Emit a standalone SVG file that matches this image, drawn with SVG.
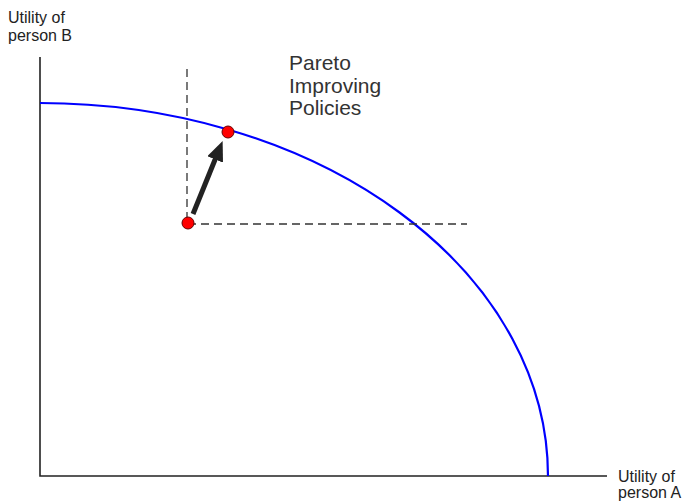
<svg xmlns="http://www.w3.org/2000/svg" width="691" height="503" viewBox="0 0 691 503">
<style>
text{font-family:"Liberation Sans",Arial,sans-serif;fill:#222}
.lab{font-size:16px}
.big{font-size:21px;fill:#333}
.axis{stroke:#222;stroke-width:1.6;fill:none}
.dash{stroke:#333;stroke-width:1.3;stroke-dasharray:8,5;fill:none}
.pt{fill:#f00;stroke:#600;stroke-width:1}
</style>
<defs>
<marker id="ah" viewBox="0 0 10 8.5" refX="0.5" refY="4.25" markerWidth="4" markerHeight="3.4" orient="auto" markerUnits="strokeWidth">
<path d="M0,0 L10,4.25 L0,8.5 Z" fill="#222"/>
</marker>
</defs>
<g id="axes">
<path class="axis" d="M40,57 V476 H607"/>
</g>
<g id="frontier">
<path d="M40,103 A508,373 0 0 1 548,476" fill="none" stroke="#00f" stroke-width="2.2"/>
</g>
<g id="guides">
<path class="dash" d="M187,69 V223"/>
<path class="dash" d="M188,224 H467"/>
</g>
<g id="connectors">
<line x1="193" y1="214" x2="215.5" y2="158.5" stroke="#222" stroke-width="5" marker-end="url(#ah)"/>
</g>
<g id="p1"><circle class="pt" cx="188" cy="223" r="6"/></g>
<g id="p2"><circle class="pt" cx="228" cy="132" r="6"/></g>
<g id="labels">
<text class="lab" x="8" y="23">Utility of</text>
<text class="lab" x="8" y="41">person B</text>
<text class="lab" x="618" y="482">Utility of</text>
<text class="lab" x="618" y="498">person A</text>
<text class="big" x="289" y="70">Pareto</text>
<text class="big" x="289" y="92.5">Improving</text>
<text class="big" x="289" y="115">Policies</text>
</g>
</svg>
